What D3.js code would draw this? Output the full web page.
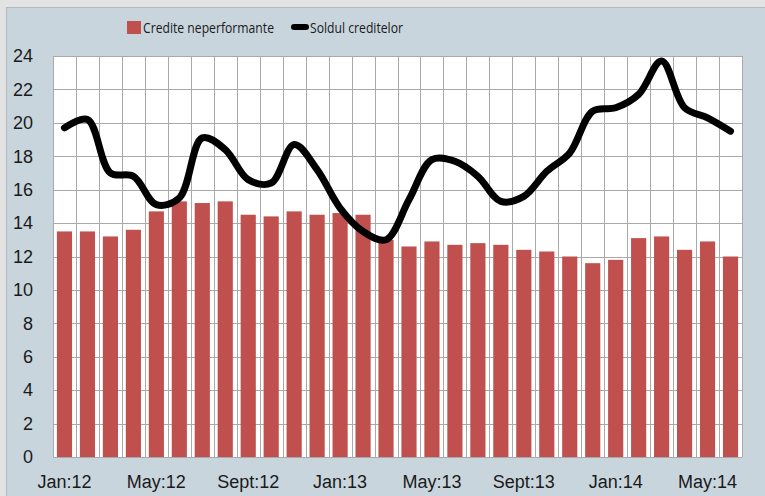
<!DOCTYPE html>
<html lang="ro">
<head>
<meta charset="UTF-8">
<title>Credite neperformante</title>
<style>
  body { margin: 0; background: #e3e3e3; }
  svg { display: block; font-family: "Open Sans", sans-serif; }
  .grid line { stroke: #a9a9a9; stroke-width: 1; }
</style>
</head>
<body>
<svg width="765" height="496"></svg>
<script src="https://cdn.jsdelivr.net/npm/d3@7"></script>
<script>
var months = ["Jan:12","Feb:12","Mar:12","Apr:12","May:12","Jun:12","Jul:12","Aug:12","Sept:12","Oct:12","Nov:12","Dec:12",
              "Jan:13","Feb:13","Mar:13","Apr:13","May:13","Jun:13","Jul:13","Aug:13","Sept:13","Oct:13","Nov:13","Dec:13",
              "Jan:14","Feb:14","Mar:14","Apr:14","May:14","Jun:14"];
var shownLabels = ["Jan:12","May:12","Sept:12","Jan:13","May:13","Sept:13","Jan:14","May:14"];
var crediteNeperformante = [13.5,13.5,13.2,13.6,14.7,15.3,15.2,15.3,14.5,14.4,14.7,14.5,14.6,14.5,13.0,12.6,12.9,12.7,12.8,12.7,
                            12.4,12.3,12.0,11.6,11.8,13.1,13.2,12.4,12.9,12.0];
var soldulCreditelor = [19.7,20.2,17.0,16.8,15.1,15.5,19.1,18.4,16.6,16.4,18.7,17.2,14.9,13.5,13.0,15.4,17.8,17.7,16.8,15.3,
                        15.6,17.1,18.2,20.7,20.9,21.7,23.7,20.9,20.3,19.5];
var yTicks = [0,2,4,6,8,10,12,14,16,18,20,22,24];

var svg = d3.select("svg");

// panel
svg.append("rect").attr("x", 6.5).attr("y", 7.5).attr("width", 765).attr("height", 496)
  .attr("fill", "#c9d5dd").attr("stroke", "#b3b9be");

var plotLeft = 53, plotRight = 742, plotTop = 56, plotBottom = 457;

var x = d3.scaleBand().domain(months).range([plotLeft, plotRight]).paddingInner(0.34).paddingOuter(0.17);
var xc = d3.scaleBand().domain(months).range([plotLeft, plotRight]);
var y = d3.scaleLinear().domain([0, 24]).range([plotBottom, plotTop]);

svg.append("rect").attr("x", plotLeft).attr("y", plotTop)
  .attr("width", plotRight - plotLeft).attr("height", plotBottom - plotTop)
  .attr("fill", "#ffffff");

var grid = svg.append("g").attr("class", "grid");
grid.selectAll(".h").data(yTicks).enter().append("line")
  .attr("x1", plotLeft).attr("x2", plotRight)
  .attr("y1", function (d) { return Math.round(y(d)) + 0.5; })
  .attr("y2", function (d) { return Math.round(y(d)) + 0.5; });
grid.selectAll(".v").data(months.concat(["end"])).enter().append("line")
  .attr("x1", function (d, i) { return Math.round(plotLeft + i * xc.bandwidth()) + 0.5; })
  .attr("x2", function (d, i) { return Math.round(plotLeft + i * xc.bandwidth()) + 0.5; })
  .attr("y1", plotTop).attr("y2", plotBottom);

// bars
svg.append("g").selectAll("rect").data(crediteNeperformante).enter().append("rect")
  .attr("x", function (d, i) { return x(months[i]); })
  .attr("width", x.bandwidth())
  .attr("y", function (d) { return y(d); })
  .attr("height", function (d) { return plotBottom - y(d); })
  .attr("fill", "#c0504d");

// line
var line = d3.line()
  .x(function (d, i) { return xc(months[i]) + xc.bandwidth() / 2; })
  .y(function (d) { return y(d); })
  .curve(d3.curveCatmullRom.alpha(0.5));
svg.append("path").datum(soldulCreditelor)
  .attr("d", line).attr("fill", "none").attr("stroke", "#000")
  .attr("stroke-width", 7).attr("stroke-linejoin", "round").attr("stroke-linecap", "round");

// y axis
var yAxis = svg.append("g")
  .attr("transform", "translate(" + (plotLeft - 20) + ",0)")
  .call(d3.axisLeft(y).tickValues(yTicks).tickSize(0).tickPadding(0));
yAxis.select(".domain").remove();
yAxis.selectAll("text").attr("font-size", 18).attr("fill", "#1a1a1a").attr("font-family", "inherit");

// x axis
var xAxis = svg.append("g")
  .attr("transform", "translate(0," + (plotBottom + 18) + ")")
  .call(d3.axisBottom(xc).tickValues(shownLabels).tickSize(0).tickPadding(0));
xAxis.select(".domain").remove();
xAxis.selectAll("text").attr("font-size", 18).attr("fill", "#1a1a1a").attr("font-family", "inherit");

// legend
var legend = svg.append("g").attr("font-size", 15).attr("fill", "#1a1a1a");
legend.append("rect").attr("x", 127).attr("y", 21).attr("width", 14).attr("height", 13).attr("fill", "#c0504d");
legend.append("text").attr("x", 143).attr("y", 33)
  .attr("textLength", 131).attr("lengthAdjust", "spacingAndGlyphs")
  .text("Credite neperformante");
legend.append("line").attr("x1", 294).attr("x2", 306).attr("y1", 27).attr("y2", 27)
  .attr("stroke", "#000").attr("stroke-width", 6).attr("stroke-linecap", "round");
legend.append("text").attr("x", 310).attr("y", 33)
  .attr("textLength", 93).attr("lengthAdjust", "spacingAndGlyphs")
  .text("Soldul creditelor");
</script>
</body>
</html>
